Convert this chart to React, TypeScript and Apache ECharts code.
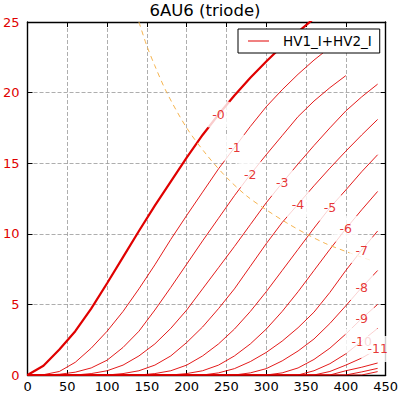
import React, { useEffect, useRef } from 'react';
import * as echarts from 'echarts';

// Plate voltage sample points (V)
const PLATE_V = [0, 20, 40, 60, 80, 100, 120, 140, 160, 180, 200, 220, 240, 260, 280, 300, 320, 340, 360, 380, 400, 420, 440];

// Plate current (mA) for each grid voltage, aligned with PLATE_V
const IA_G0 = [0, 0.65, 1.8, 3.1, 4.7, 6.5, 8.35, 10.2, 12.0, 13.7, 15.4, 17.0, 18.45, 19.8, 21.05, 22.2, 23.3, 24.3, 25.25, 26.15];
const IA_G1 = [0, 0.02, 0.25, 0.9, 1.9, 3.1, 4.5, 6.1, 7.8, 9.6, 11.3, 12.95, 14.6, 16.1, 17.6, 19.0, 20.2, 21.3, 22.3, 23.2];
const IA_G2 = [0, 0, 0.05, 0.2, 0.5, 1.05, 1.95, 3.1, 4.6, 6.2, 7.85, 9.5, 11.1, 12.7, 14.2, 15.6, 16.95, 18.3, 19.4, 20.35, 21.2];
const IA_G3 = [0, 0, 0, 0, 0.1, 0.3, 0.7, 1.35, 2.2, 3.3, 4.6, 6.1, 7.6, 9.1, 10.65, 12.2, 13.6, 14.95, 16.25, 17.5, 18.7, 19.7, 20.6];
const IA_G4 = [0, 0, 0, 0, 0, 0, 0.1, 0.3, 0.7, 1.35, 2.3, 3.4, 4.7, 6.1, 7.7, 9.3, 10.8, 12.1, 13.4, 14.65, 15.85, 17.0, 18.1];
const IA_G5 = [0, 0, 0, 0, 0, 0, 0, 0, 0.1, 0.3, 0.7, 1.35, 2.2, 3.25, 4.5, 5.9, 7.4, 8.9, 10.4, 11.85, 13.1, 14.4, 15.6];
const IA_G6 = [0, 0, 0, 0, 0, 0, 0, 0, 0, 0, 0.1, 0.3, 0.7, 1.35, 2.2, 3.25, 4.5, 5.9, 7.4, 8.9, 10.35, 11.7, 13.0];
const IA_G7 = [0, 0, 0, 0, 0, 0, 0, 0, 0, 0, 0, 0, 0.15, 0.45, 0.95, 1.6, 2.4, 3.35, 4.45, 5.85, 7.4, 8.85, 10.2];
const IA_G8 = [0, 0, 0, 0, 0, 0, 0, 0, 0, 0, 0, 0, 0, 0, 0.15, 0.45, 1.0, 1.7, 2.55, 3.65, 4.9, 6.2, 7.4];
const IA_G9 = [0, 0, 0, 0, 0, 0, 0, 0, 0, 0, 0, 0, 0, 0, 0, 0, 0.15, 0.5, 1.1, 1.9, 2.9, 4.0, 5.0];
const IA_G10 = [0, 0, 0, 0, 0, 0, 0, 0, 0, 0, 0, 0, 0, 0, 0, 0, 0, 0, 0.3, 0.8, 1.5, 2.4, 3.3];
const IA_G11 = [0, 0, 0, 0, 0, 0, 0, 0, 0, 0, 0, 0, 0, 0, 0, 0, 0, 0, 0, 0.25, 0.7, 1.2, 1.85];
const IA_G12 = [0, 0, 0, 0, 0, 0, 0, 0, 0, 0, 0, 0, 0, 0, 0, 0, 0, 0, 0, 0, 0.3, 0.55, 0.85];
const IA_G13 = [0, 0, 0, 0, 0, 0, 0, 0, 0, 0, 0, 0, 0, 0, 0, 0, 0, 0, 0, 0, 0, 0.22, 0.47];
const IA_G14 = [0, 0, 0, 0, 0, 0, 0, 0, 0, 0, 0, 0, 0, 0, 0, 0, 0, 0, 0, 0, 0, 0, 0.24];

// Grid-voltage labels and the plate voltage at which each is placed
const GRID_LABELS = ['-0', '-1', '-2', '-3', '-4', '-5', '-6', '-7', '-8', '-9', '-10', '-11'];
const LABEL_AT_V = [240, 260, 280, 320, 340, 380, 400, 420, 420, 420, 420, 440];

// Max plate dissipation curve
const DISS_V = [140, 150, 160, 175, 200, 225, 250, 275, 300, 325, 350, 375, 400, 435];
const DISS_I = [25, 23.3, 21.9, 20, 17.5, 15.6, 14, 12.7, 11.7, 10.8, 10, 9.3, 8.75, 8.05];

const TITLE = '6AU6 (triode)';
const LEGEND_NAME = 'HV1_I+HV2_I';

const RED = '#e00000';
const FONT = 'DejaVu Sans';

export default function App() {
  const ref = useRef<HTMLDivElement>(null);
  useEffect(() => {
    const chart = echarts.init(ref.current!, null, { renderer: 'svg' });
    const curves = [IA_G0, IA_G1, IA_G2, IA_G3, IA_G4, IA_G5, IA_G6, IA_G7, IA_G8, IA_G9, IA_G10, IA_G11, IA_G12, IA_G13, IA_G14];
    const series: any[] = curves.map((c, i) => ({
      type: 'line',
      name: LEGEND_NAME,
      data: c.map((y, k) => [PLATE_V[k], y]),
      symbol: 'none',
      showSymbol: false,
      silent: true,
      clip: true,
      lineStyle: { color: RED, width: i === 0 ? 2.2 : 0.9 },
      itemStyle: { color: RED },
      z: 2,
    }));
    series.push({
      type: 'line',
      name: 'Pmax',
      data: DISS_V.map((v, k) => [v, DISS_I[k]]),
      symbol: 'none',
      showSymbol: false,
      silent: true,
      smooth: 0.3,
      lineStyle: { color: '#f5b450', width: 1, type: [5, 4] },
      z: 2,
    });
    const labelItem = (i: number) => {
      const v = LABEL_AT_V[i];
      const k = PLATE_V.indexOf(v);
      return { value: [v, curves[i][k]], label: { formatter: GRID_LABELS[i] } };
    };
    const labelStyle = {
      show: true,
      position: 'inside',
      color: RED,
      fontSize: 12.5,
      fontFamily: FONT,
      backgroundColor: '#fff',
      padding: [7, 6, 6, 6],
      borderRadius: 3,
    };
    series.push({
      type: 'scatter',
      name: 'labels',
      data: GRID_LABELS.slice(0, 11).map((_, i) => labelItem(i)),
      symbolSize: 0,
      itemStyle: { color: 'rgba(0,0,0,0)' },
      label: labelStyle,
      silent: true,
      clip: false,
      z: 3,
    });
    series.push({
      type: 'scatter',
      name: 'labels2',
      data: [labelItem(11)],
      symbolSize: 0,
      itemStyle: { color: 'rgba(0,0,0,0)' },
      label: labelStyle,
      silent: true,
      clip: false,
      z: 4,
    });

    const splitLine = { show: true, lineStyle: { color: '#999', width: 0.8, type: [4, 2] } };
    const axisLine = { show: true, onZero: false, lineStyle: { color: '#000', width: 1.4 } };
    const axisTick = { show: true, inside: true, length: 5, lineStyle: { color: '#000', width: 1 } };

    chart.setOption({
      animation: false,
      backgroundColor: '#fff',
      textStyle: { fontFamily: FONT },
      graphic: [
        {
          type: 'text',
          x: 205,
          y: 10,
          style: {
            text: TITLE,
            fontSize: 16.5,
            fontFamily: FONT,
            fill: '#000',
            textAlign: 'center',
            textVerticalAlign: 'middle',
          },
        },
      ],
      grid: { left: 24, top: 22, width: 362, height: 353, containLabel: false },
      legend: {
        data: [{ name: LEGEND_NAME, icon: 'rect' }],
        left: 238,
        top: 29,
        itemWidth: 21,
        itemHeight: 1,
        padding: [5, 8, 5, 10],
        borderColor: '#000',
        borderWidth: 1,
        backgroundColor: '#fff',
        borderRadius: 0,
        textStyle: { fontSize: 13.5, fontFamily: FONT, color: '#000', padding: [0, 0, 0, 9] },
        selectedMode: false,
      },
      xAxis: [
        {
          type: 'value',
          min: 0,
          max: 450,
          interval: 50,
          position: 'bottom',
          axisLine,
          axisTick,
          axisLabel: { color: '#000', fontSize: 13, margin: 5, fontFamily: FONT },
          splitLine,
        },
        {
          type: 'value',
          min: 0,
          max: 450,
          interval: 50,
          position: 'top',
          axisLine,
          axisTick,
          axisLabel: { show: false },
          splitLine: { show: false },
        },
      ],
      yAxis: [
        {
          type: 'value',
          min: 0,
          max: 25,
          interval: 5,
          position: 'left',
          axisLine,
          axisTick,
          axisLabel: { color: RED, fontSize: 13, margin: 8, fontFamily: FONT },
          splitLine,
        },
        {
          type: 'value',
          min: 0,
          max: 25,
          interval: 5,
          position: 'right',
          axisLine,
          axisTick,
          axisLabel: { show: false },
          splitLine: { show: false },
        },
      ],
      series,
    });
    return () => chart.dispose();
  }, []);
  return <div ref={ref} style={{ position: 'fixed', left: 0, top: 0, width: 401, height: 395 }} />;
}
